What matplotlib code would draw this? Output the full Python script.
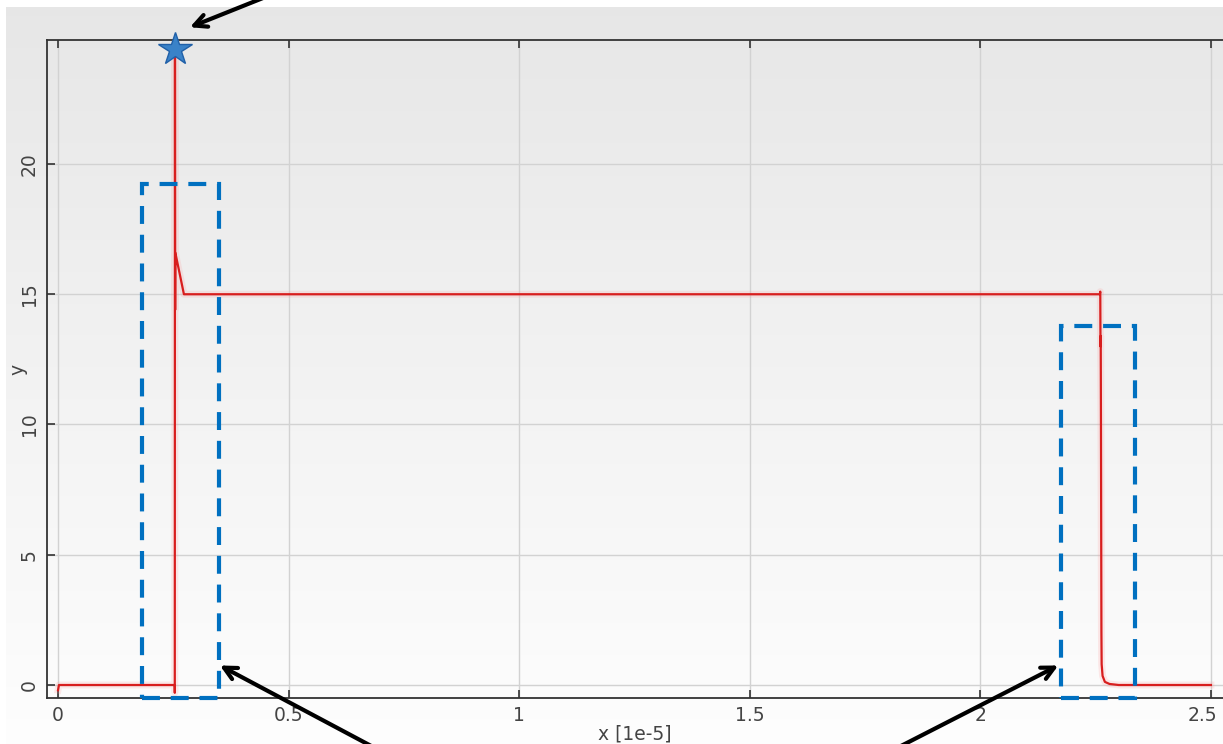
import numpy as np
import matplotlib
matplotlib.use("Agg")
import matplotlib.pyplot as plt
import matplotlib.patheffects as pe
from matplotlib.patches import Rectangle
from matplotlib.transforms import blended_transform_factory, ScaledTranslation

# Signal samples (x in units of 1e-5)
x_vals = [0.0, 0.002, 0.2530, 0.2532, 0.2536, 0.2540, 0.2543, 0.2730, 0.2800,
          2.2590, 2.2600, 2.2605, 2.2610, 2.2615, 2.2620,
          2.2625, 2.2630, 2.2650, 2.2700, 2.2800, 2.3000, 2.3500, 2.5000]
y_vals = [-0.2, 0.0, 0.0, -0.3, 24.4, 14.4, 16.6, 15.0, 15.0,
          15.0, 15.1, 13.0, 13.4, 10.0, 6.0,
          2.0, 0.8, 0.35, 0.12, 0.04, 0.0, 0.0, 0.0]

# Peak marker
peak_x = 0.2536
peak_y = 24.4

# Highlight boxes: (x_left, x_right, y_top)
box_left = [0.182, 2.175]
box_right = [0.349, 2.335]
box_top = [19.23, 13.77]

x_ticks = [0, 0.5, 1, 1.5, 2, 2.5]
x_tick_labels = ["0", "0.5", "1", "1.5", "2", "2.5"]
y_ticks = [0, 5, 10, 15, 20]
y_tick_labels = ["0", "5", "10", "15", "20"]

W, H = 1223, 744
fig = plt.figure(figsize=(W / 100, H / 100), dpi=100)
fig.patch.set_facecolor("white")

# Gray-to-white panel background
bg = fig.add_axes([6 / W, 0, 1 - 6 / W, (H - 7) / H], zorder=0)
grad = np.linspace(0.905, 0.995, 256).reshape(-1, 1)
bg.imshow(np.dstack([grad, grad, grad]), aspect="auto", extent=[0, 1, 0, 1],
          origin="upper")
bg.set_axis_off()

# Main axes (right side runs off the canvas)
L, R, T, B = 47, 1240, 40, 698
ax = fig.add_axes([L / W, 1 - B / H, (R - L) / W, (B - T) / H], zorder=1)
ax.patch.set_alpha(0)
ax.set_xlim(-0.0239, 2.563)
ax.set_ylim(-0.499, 24.76)

ax.grid(True, color="#d2d2d2", lw=1.0)
ax.set_axisbelow(True)
for s in ["left", "bottom", "top", "right"]:
    ax.spines[s].set_color("#333333")
    ax.spines[s].set_linewidth(1.3)

ax.set_xticks(x_ticks)
ax.set_xticklabels(x_tick_labels)
ax.set_yticks(y_ticks)
ax.set_yticklabels(y_tick_labels, rotation=90, va="center")
ax.tick_params(direction="in", length=6, width=1.2, color="#333333",
               top=True, right=True, labelsize=13.5, labelcolor="#444444", pad=6)

# keep the last x tick label inside the canvas
last = ax.get_xticklabels()[-1]
last.set_transform(last.get_transform() + ScaledTranslation(-9 / 100, 0, fig.dpi_scale_trans))

ax.set_xlabel("x [1e-5]", fontsize=13.5, color="#444444")
ax.xaxis.set_label_coords(1.25, -0.040,
                          transform=blended_transform_factory(ax.transData, ax.transAxes))
ax.set_ylabel("y", fontsize=13.5, color="#444444")
ax.yaxis.set_label_coords(-0.016, 0.5)

ax.plot(x_vals, y_vals, color="#d81e1e", lw=1.6, zorder=3,
        path_effects=[pe.Stroke(linewidth=5, foreground="#ff9090", alpha=0.18), pe.Normal()])

ax.plot([peak_x], [peak_y], marker="*", markersize=25, color="#3a82c8",
        markeredgecolor="#2060a8", markeredgewidth=1.0, clip_on=False, zorder=5)

for xl, xr, yt in zip(box_left, box_right, box_top):
    ylo = ax.get_ylim()[0]
    ax.add_patch(Rectangle((xl, ylo), xr - xl, yt - ylo, fill=False,
                           edgecolor="#0070c0", lw=3, linestyle=(0, (4.3, 2.6)),
                           clip_on=False, zorder=4))

arrow = dict(arrowstyle="->,head_length=0.9,head_width=0.45", color="black", lw=3,
             shrinkA=0, shrinkB=0)
ax.annotate("", xy=(0.286, 25.25), xycoords="data",
            xytext=(268, H + 4), textcoords="figure pixels",
            arrowprops=arrow, annotation_clip=False)
ax.annotate("", xy=(0.351, 0.75), xycoords="data",
            xytext=(375, -4), textcoords="figure pixels",
            arrowprops=arrow, annotation_clip=False)
ax.annotate("", xy=(2.169, 0.75), xycoords="data",
            xytext=(897, -4), textcoords="figure pixels",
            arrowprops=arrow, annotation_clip=False)

fig.savefig("out.png", dpi=100)
